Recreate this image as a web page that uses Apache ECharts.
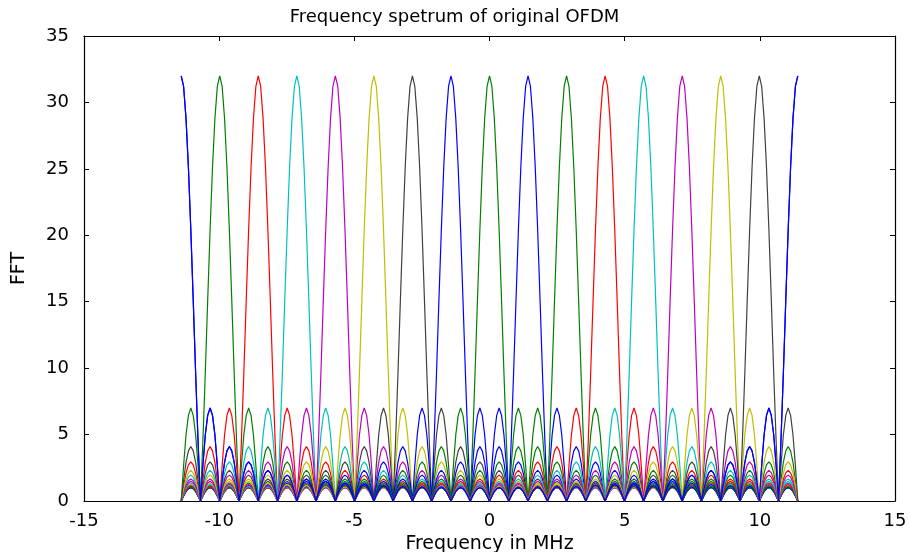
<!DOCTYPE html>
<html>
<head>
    <meta charset="utf-8">
    <title>Frequency spetrum of original OFDM</title>
    <script src="https://cdn.jsdelivr.net/npm/echarts@6/dist/echarts.min.js"></script>
</head>
<body style="margin:0;padding:0;background:#fff;">
<div id="main" style="margin:0px;padding:0px;width:909px;height:552px;"></div>
<script type="text/javascript">
    // peak frequency (MHz) of each subcarrier, left to right
    var peakFreqs = [-11.40, -9.98, -8.55, -7.13, -5.70, -4.28, -2.85, -1.43, 0,
                     1.43, 2.85, 4.28, 5.70, 7.13, 8.55, 9.98, 11.40];
    var peakColors = ['#0000FF', '#008000', '#FF0000', '#00BFBF', '#BF00BF', '#BFBF00', '#404040', '#0000FF', '#008000',
                      '#0000FF', '#008000', '#FF0000', '#00BFBF', '#BF00BF', '#BFBF00', '#404040', '#0000FF'];

    // distance between spectral nulls (MHz), half the subcarrier spacing
    var nullSpacing = 0.7128;
    // nulls shown on each side of the centre, and nulls in one period of the spectrum
    var halfSpan = 16;
    var period = 32;

    // one subcarrier:
    // main lobe height at 1/8 null-spacing steps from the peak out to the first null
    var mainLobe = [32, 31.2, 28.8, 25.1, 20.4, 15.1, 9.6, 4.5, 0];
    // side lobe tops, first side lobe onward
    var sideLobeLevels = [7.0, 4.1, 2.95, 2.3, 1.95, 1.65, 1.48, 1.35, 1.24, 1.16, 1.1, 1.06, 1.03, 1.01, 1.0];
    // shape of one side lobe between two nulls, 1/8 steps
    var lobeShape = [0, 0.38, 0.71, 0.92, 1, 0.92, 0.71, 0.38, 0];

    var xTicks = {min: -15, max: 15, interval: 5};
    var yTicks = {min: 0, max: 35, interval: 5};

    // height of subcarrier at a given distance (in 1/8 null steps) from its peak
    function lobeValue(steps) {
        var d = ((steps % (period * 8)) + period * 8) % (period * 8);
        if (d > halfSpan * 8) d = period * 8 - d;
        if (d <= 8) return mainLobe[d];
        var m = Math.floor(d / 8);
        var t = d - m * 8;
        if (t === 0) return 0;
        return sideLobeLevels[m - 1] * lobeShape[t];
    }

    var series = [];
    for (var i = 0; i < peakFreqs.length; i++) {
        var peakStep = Math.round(peakFreqs[i] / nullSpacing * 8);
        var pts = [];
        for (var s = -halfSpan * 8; s <= halfSpan * 8; s++) {
            pts.push([s / 8 * nullSpacing, lobeValue(s - peakStep)]);
        }
        series.push({
            type: 'line',
            data: pts,
            showSymbol: false,
            lineStyle: {width: 1.2, color: peakColors[i]},
            itemStyle: {color: peakColors[i]},
            silent: true
        });
    }

    var font = 'DejaVu Sans';
    var tickStyle = {show: true, inside: true, length: 5, lineStyle: {color: '#000', width: 1}};
    var lineStyle = {show: true, onZero: false, lineStyle: {color: '#000', width: 1.2}};

    var myChart = echarts.init(document.getElementById('main'));
    var option = {
        animation: false,
        backgroundColor: '#fff',
        title: {
            text: 'Frequency spetrum of original OFDM',
            left: 'center',
            top: 3,
            textStyle: {fontFamily: font, fontSize: 18, fontWeight: 'normal', color: '#000'}
        },
        grid: {left: 84, right: 14, top: 36, bottom: 51, containLabel: false, outerBoundsMode: 'none'},
        xAxis: [{
            type: 'value', position: 'bottom',
            min: xTicks.min, max: xTicks.max, interval: xTicks.interval,
            name: 'Frequency in MHz', nameLocation: 'middle', nameGap: 30,
            nameTextStyle: {fontFamily: font, fontSize: 19, color: '#000'},
            axisLine: lineStyle, axisTick: tickStyle, splitLine: {show: false},
            axisLabel: {fontFamily: font, fontSize: 18, color: '#000', margin: 11}
        }, {
            type: 'value', position: 'top',
            min: xTicks.min, max: xTicks.max, interval: xTicks.interval,
            axisLine: lineStyle, axisTick: tickStyle, splitLine: {show: false},
            axisLabel: {show: false}
        }],
        yAxis: [{
            type: 'value', position: 'left',
            min: yTicks.min, max: yTicks.max, interval: yTicks.interval,
            name: 'FFT', nameLocation: 'middle', nameGap: 55, nameRotate: 90,
            nameTextStyle: {fontFamily: font, fontSize: 19, color: '#000'},
            axisLine: lineStyle, axisTick: tickStyle, splitLine: {show: false},
            axisLabel: {fontFamily: font, fontSize: 18, color: '#000', margin: 15}
        }, {
            type: 'value', position: 'right',
            min: yTicks.min, max: yTicks.max, interval: yTicks.interval,
            axisLine: lineStyle, axisTick: tickStyle, splitLine: {show: false},
            axisLabel: {show: false}
        }],
        series: series
    };
    myChart.setOption(option);
</script>
</body>
</html>
